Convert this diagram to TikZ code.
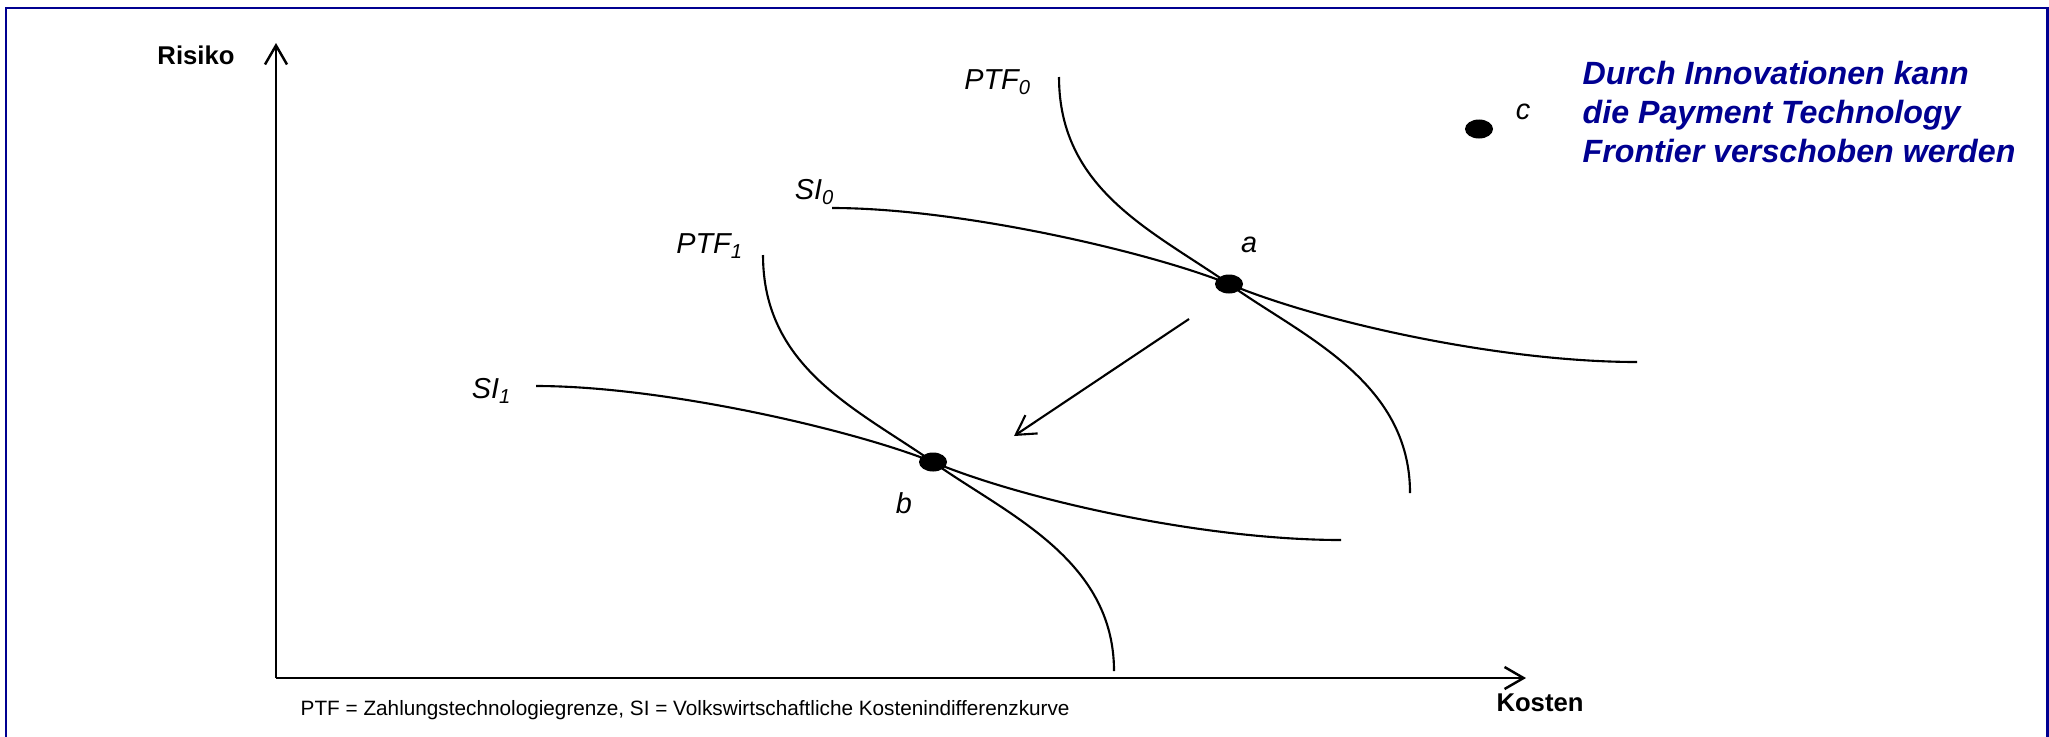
\documentclass[tikz,border=0pt]{standalone}
\usepackage{fontspec}
\setmainfont{Liberation Sans}
\usetikzlibrary{shapes.geometric, arrows.meta, positioning}
\definecolor{navy}{RGB}{0,0,145}
\tikzset{
  frame/.style={draw=navy, line width=0.85pt},
  axis/.style={line width=0.7pt, -{Straight Barb[length=1.9mm, width=2.2mm]}},
  curve/.style={line width=0.6pt},
  shiftarr/.style={line width=0.6pt, -{Straight Barb[length=1.9mm, width=2.2mm]}},
  dot/.style={ellipse, fill=black, inner sep=0pt, minimum width=0.28cm, minimum height=0.19cm},
  lbl/.style={inner sep=0pt, font=\fontsize{8.2}{10}\selectfont\itshape},
  axlbl/.style={inner sep=0pt, font=\fontsize{7.3}{9}\selectfont\bfseries},
  note/.style={inner sep=0pt, font=\fontsize{5.9}{7}\selectfont},
  claim/.style={inner sep=0pt, align=left, text=navy, font=\fontsize{9.15}{10.95}\selectfont\bfseries\itshape},
}
\begin{document}
\begin{tikzpicture}[x=0.01cm, y=-0.01cm]
  \useasboundingbox (0,0) rectangle (2049,736);
  \draw[frame] (6,745) |- (2047,8) -- (2047,745);

  % axes
  \coordinate (origin) at (276,678);
  \coordinate (ytop) at (276,43);
  \coordinate (xend) at (1526,678);
  \draw[axis] (origin) -- (ytop);
  \draw[axis] (origin) -- (xend);
  \node[axlbl] (risiko) at (196,55) {Risiko};
  \node[axlbl] (kosten) at (1540,703) {Kosten};

  % points
  \node[dot] (a) at (1229,284) {};
  \node[dot] (b) at (933,462) {};
  \node[dot] (c) at (1479,129) {};
  \node[lbl] (alab) at (1249,245) {a};
  \node[lbl] (blab) at (904,503) {b};
  \node[lbl] (clab) at (1523,112) {c};

  % curves
  \draw[curve] (1059,77) .. controls (1059,190) and (1153,231) .. (a.center)
    .. controls (1300,335) and (1410,380) .. (1410,493);
  \draw[curve] (832,208) .. controls (960,208) and (1150,252) .. (a.center)
    .. controls (1320,322) and (1500,362) .. (1637,362);
  \draw[curve] (763,255) .. controls (763,368) and (857,409) .. (b.center)
    .. controls (1004,513) and (1114,558) .. (1114,671);
  \draw[curve] (536,386) .. controls (664,386) and (854,430) .. (b.center)
    .. controls (1024,500) and (1204,540) .. (1341,540);
  \node[lbl] (ptf0) at (998,82) {PTF\textsubscript{0}};
  \node[lbl] (si0) at (815,192) {SI\textsubscript{0}};
  \node[lbl] (ptf1) at (710,246) {PTF\textsubscript{1}};
  \node[lbl] (si1) at (492,391) {SI\textsubscript{1}};

  % shift of the frontier
  \coordinate (from) at (1189,319);
  \coordinate (to) at (1014,436);
  \draw[shiftarr] (from) -- (to);

  \node[claim, anchor=base west] (claim) at (1582,162) {Durch Innovationen kann\\die Payment Technology\\Frontier verschoben werden};
  \node[note, anchor=base west] (legend) at (300,715) {PTF = Zahlungstechnologiegrenze, SI = Volkswirtschaftliche Kostenindifferenzkurve};
\end{tikzpicture}
\end{document}
